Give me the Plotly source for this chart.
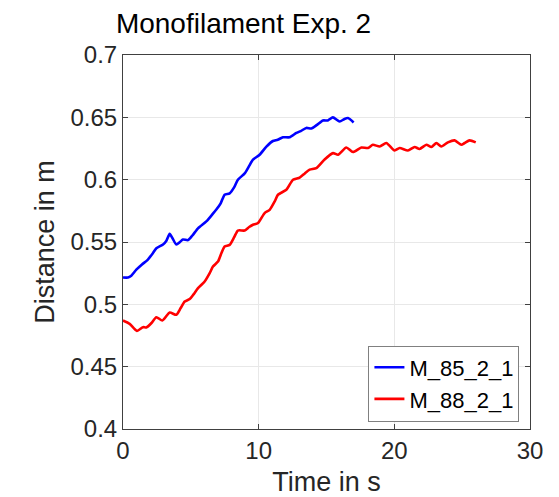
import plotly.graph_objects as go

# Data
t_blue = [0, 0.37, 0.61, 1.0, 1.4, 1.8, 2.2, 2.46, 2.95, 3.2, 3.44, 3.65, 3.93, 4.2, 4.42,
          4.79, 5.1, 5.53, 6.14, 6.5, 6.88, 7.2, 7.49, 7.86, 8.2, 8.47, 8.97, 9.3, 9.58,
          10.07, 10.57, 11.05, 11.4, 11.79, 12.28, 12.78, 13.1, 13.51, 13.88, 14.3, 14.74,
          15.1, 15.47, 15.97, 16.3, 16.58, 17.0]
d_blue = [0.5215, 0.5215, 0.523, 0.528, 0.532, 0.5355, 0.541, 0.545, 0.548, 0.551, 0.5565,
          0.553, 0.548, 0.550, 0.552, 0.5515, 0.555, 0.561, 0.5665, 0.571, 0.576, 0.581,
          0.588, 0.589, 0.594, 0.600, 0.605, 0.611, 0.616, 0.620, 0.6265, 0.631, 0.632,
          0.634, 0.634, 0.6375, 0.639, 0.6415, 0.641, 0.644, 0.6475, 0.6475, 0.650,
          0.6467, 0.6485, 0.6494, 0.6459]

t_red = [0, 0.49, 1.03, 1.47, 1.72, 2.1, 2.46, 2.9, 3.44, 3.93, 4.25, 4.55, 4.92, 5.2, 5.53,
         6.02, 6.39, 6.63, 7.0, 7.25, 7.49, 7.86, 8.2, 8.47, 8.97, 9.3, 9.58, 9.95, 10.44,
         10.81, 11.18, 11.42, 12.04, 12.53, 13.02, 13.4, 13.76, 14.25, 14.86, 15.48, 15.85,
         16.46, 16.95, 17.57, 18.06, 18.42, 18.92, 19.41, 20.02, 20.39, 21.0, 21.5, 21.86,
         22.36, 22.73, 23.1, 23.46, 23.95, 24.44, 24.94, 25.18, 25.55, 26.0]
d_red = [0.487, 0.4843, 0.4787, 0.4817, 0.4814, 0.485, 0.4897, 0.487, 0.4934, 0.4916, 0.497,
         0.5022, 0.5042, 0.508, 0.513, 0.5183, 0.525, 0.5303, 0.5343, 0.541, 0.5464, 0.5477,
         0.554, 0.5592, 0.5592, 0.562, 0.5638, 0.5652, 0.5732, 0.5758, 0.5825, 0.5879,
         0.5919, 0.5999, 0.6017, 0.605, 0.608, 0.6093, 0.6162, 0.6213, 0.620, 0.6258,
         0.6222, 0.6258, 0.6254, 0.628, 0.6266, 0.6294, 0.6234, 0.6254, 0.6234, 0.6262,
         0.6246, 0.628, 0.6262, 0.6294, 0.6266, 0.6299, 0.6315, 0.628, 0.6294, 0.6315, 0.6299]

series_names = ["M_85_2_1", "M_88_2_1"]
x_ticks = [0, 10, 20, 30]
y_ticks = [0.4, 0.45, 0.5, 0.55, 0.6, 0.65, 0.7]
y_tick_text = ["0.4", "0.45", "0.5", "0.55", "0.6", "0.65", "0.7"]

FONT = "Liberation Sans, Arial, Helvetica, sans-serif"
AXC = "#404040"

# the page body has an 8px margin, so the figure is 8px smaller than the window
W, H, OFF = 551, 489, 8

fig = go.Figure()
fig.add_trace(go.Scatter(x=t_blue, y=d_blue, mode="lines", name=series_names[0],
                         line=dict(color="#0000ff", width=2.6, shape="spline", smoothing=0.6)))
fig.add_trace(go.Scatter(x=t_red, y=d_red, mode="lines", name=series_names[1],
                         line=dict(color="#ff0000", width=2.6, shape="spline", smoothing=0.6)))

axis_common = dict(showline=True, linecolor=AXC, linewidth=1, mirror="ticks",
                   ticks="inside", ticklen=5, tickcolor=AXC, tickwidth=1,
                   showgrid=True, gridcolor="#e8e8e8", gridwidth=1, zeroline=False,
                   automargin=False,
                   tickfont=dict(family=FONT, size=24, color="#262626"))

fig.update_xaxes(range=[0, 30], tickvals=x_ticks,
                 title=dict(text="Time in s", font=dict(family=FONT, size=27, color="#262626"),
                            standoff=12),
                 **axis_common)
fig.update_yaxes(range=[0.4, 0.7], tickvals=y_ticks, ticktext=y_tick_text,
                 title=dict(text="Distance in m", font=dict(family=FONT, size=27, color="#262626"),
                            standoff=8),
                 **axis_common)

fig.update_layout(
    width=W, height=H,
    margin=dict(l=123 - OFF, r=29, t=55 - OFF, b=68, pad=0, autoexpand=False),
    paper_bgcolor="white", plot_bgcolor="white",
    title=dict(text="Monofilament Exp. 2", font=dict(family=FONT, size=28, color="#000000"),
               x=(243.5 - OFF) / W, xanchor="center", xref="container",
               y=1 - 5 / H, yanchor="top", yref="container"),
    showlegend=True,
    legend=dict(x=0.974, y=0.02, xanchor="right", yanchor="bottom",
                bgcolor="white", bordercolor="#808080", borderwidth=1,
                font=dict(family=FONT, size=22, color="#000000"),
                tracegroupgap=0, itemwidth=30),
)

fig.write_html("out.html")
